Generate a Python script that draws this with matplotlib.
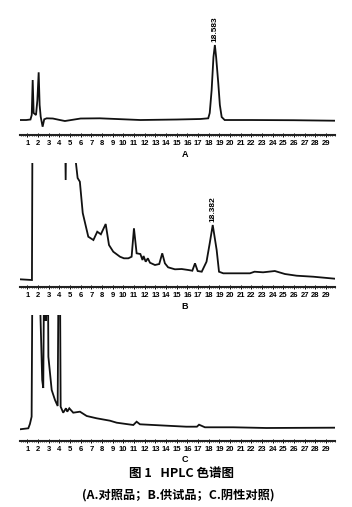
import matplotlib.pyplot as plt

plt.rcParams['font.family'] = ['Liberation Sans', 'Noto Sans CJK SC', 'DejaVu Sans']

# retention time (min) / signal
# A: reference substance
tA = [0.32, 0.9, 1.3, 1.42, 1.51, 1.6, 1.82, 1.95, 2.07, 2.16, 2.26, 2.44, 2.59, 2.82, 3.4,
      4.06, 4.53, 6.0, 7.8, 11.6, 15.0, 17.2, 17.96, 18.1, 18.28, 18.45, 18.583, 18.7,
      18.9, 19.05, 19.22, 19.5, 22.0, 26.0, 29.84]
yA = [15, 15, 15.5, 20, 55, 22, 20, 35, 62.7, 30, 18.3, 8.3, 15.7, 16.7, 16.5,
      15, 14, 16.5, 16.7, 15, 15.5, 16, 16.7, 22, 45, 78, 90, 78,
      52, 30, 18, 15, 15, 14.8, 14.3]

# B: test sample
tB = [0.32, 1.44, 1.5, 4.5, 4.6, 4.68, 5.5, 5.72, 5.93, 6.2, 6.5, 6.72, 7.2, 7.56, 7.9,
      8.35, 8.66, 9.06, 9.69, 10.06, 10.47, 10.78, 11.0, 11.25, 11.6, 11.8, 11.9, 12.1,
      12.3, 12.5, 12.97, 13.37, 13.65, 13.9, 14.2, 14.84, 15.47, 16.1, 16.47, 16.72,
      16.97, 17.35, 17.8, 18.1, 18.382, 18.75, 18.97, 19.37, 20.0, 21.87, 22.3, 23.1,
      24.2, 25.15, 26.25, 27.8, 29.84]
yB = [7.7, 7, 200, 200, 107, 200, 130, 109, 105.3, 74, 60.3, 50.3, 47, 55.3, 52.7,
      63, 42, 35.3, 30.3, 28.7, 28.7, 30.3, 58.7, 33.7, 33, 27, 31, 25.3,
      28.7, 24.3, 22, 23, 33.7, 23.7, 19.7, 17.7, 18, 17, 16.3, 23.7,
      16, 15.3, 25.3, 43.7, 62, 37, 15.3, 13.7, 13.7, 13.7, 15.3, 14.7,
      16, 13, 11.3, 10.3, 8.3]

# C: negative control
tC = [0.32, 1.1, 1.25, 1.41, 1.5, 2.05, 2.4, 2.5, 2.6, 2.65, 2.72, 2.78, 2.85, 2.92,
      2.98, 3.29, 3.6, 3.85, 3.95, 4.05, 4.13, 4.37, 4.63, 4.75, 4.94, 5.31, 5.94, 6.57,
      7.5, 8.75, 9.38, 10.94, 11.25, 11.56, 14.06, 15.9, 16.9, 17.1, 17.65, 20.3, 23.4,
      29.84]
yC = [11.7, 12.7, 17, 24.3, 200, 200, 61, 53, 200, 200, 120, 200, 125, 200,
      84.3, 51, 41, 35, 200, 200, 34.3, 28.3, 32.7, 29.3, 32.7, 28.3, 29.3, 25,
      22.7, 20.3, 18.3, 16, 19.3, 16.7, 15.3, 14.3, 14.3, 16.3, 13.7, 13.7, 13,
      13.3]

peakA = (18.583, 90)
peakB = (18.382, 62)
ticks = list(range(1, 30))
minor = [i * 0.2 for i in range(2, 150)]

fig = plt.figure(figsize=(3.52, 5.07), dpi=100)

def panel(rect, t, y, top, letter, peak=None):
    ax = fig.add_axes(rect)
    ax.plot(t, y, color='#111111', lw=1.3, solid_joinstyle='miter')
    ax.set_xlim(0.32, 29.84)
    ax.set_ylim(0, top)
    for s in ['top', 'left', 'right']:
        ax.spines[s].set_visible(False)
    ax.spines['bottom'].set_linewidth(1.5)
    ax.spines['bottom'].set_color('#222222')
    ax.set_yticks([])
    ax.set_xticks(ticks)
    ax.set_xticks(minor, minor=True)
    ax.tick_params(axis='x', which='major', direction='inout', length=3, width=0.7,
                   pad=2, labelsize=5.5)
    ax.tick_params(axis='x', which='minor', direction='inout', length=1.6, width=0.5)
    for lab in ax.get_xticklabels():
        lab.set_fontweight('bold')
    ax.text(15.78, -19, letter, ha='center', va='center', fontsize=6.5,
            fontweight='bold', clip_on=False)
    if peak is not None:
        ax.text(peak[0], peak[1] + 3, '%.3f' % peak[0], rotation=90, ha='center',
                va='bottom', fontsize=6, fontweight='bold')
    return ax

panel([0.0568, 0.7337, 0.8949, 0.2564], tA, yA, 130, 'A', peakA)
panel([0.0568, 0.4339, 0.8949, 0.2446], tB, yB, 124, 'B', peakB)
panel([0.0568, 0.1302, 0.8949, 0.2485], tC, yC, 126, 'C')

fig.text(0.516, 1 - 474 / 507, '图 1   HPLC 色谱图', ha='center', va='center',
         fontsize=9, fontweight='bold', family=['Noto Sans CJK SC', 'DejaVu Sans'])
fig.text(0.506, 1 - 495 / 507, '(A.对照品；B.供试品；C.阴性对照)', ha='center',
         va='center', fontsize=8.8, fontweight='bold',
         family=['Noto Sans CJK SC', 'DejaVu Sans'])

plt.savefig('out.png', dpi=100)
